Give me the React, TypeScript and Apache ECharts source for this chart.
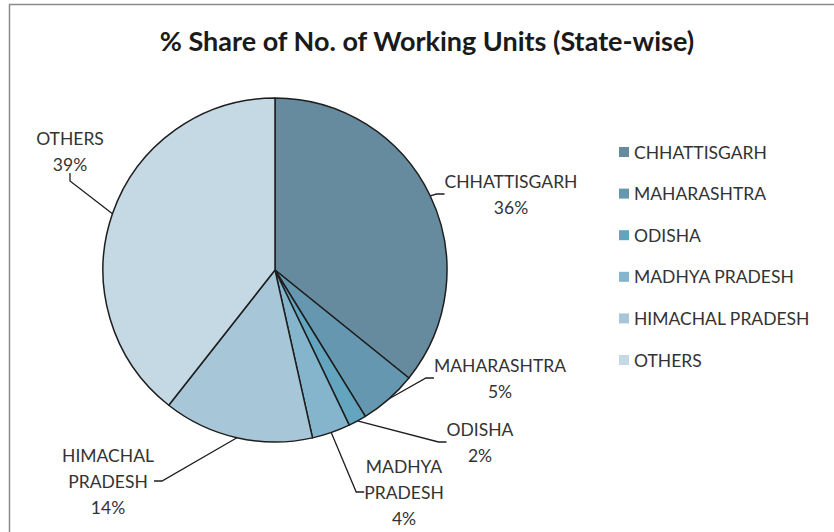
import React, { useEffect, useRef } from "react";
import * as echarts from "echarts";

const title = "% Share of No. of Working Units (State-wise)";
const categories = [
  "CHHATTISGARH",
  "MAHARASHTRA",
  "ODISHA",
  "MADHYA PRADESH",
  "HIMACHAL PRADESH",
  "OTHERS",
];
const shares = [35.8, 5.4, 1.7, 3.6, 14.1, 39.4];

const sliceColors = ["#668b9e", "#6598b0", "#63a4bf", "#84b5cc", "#a7c7d8", "#c5d9e4"];
// label block centres and extra top padding (layout only)
const labelCenters: [number, number][] = [
  [511, 194],
  [500, 378],
  [480, 442],
  [404, 492],
  [108, 460],
  [70, 151],
];
const labelTopPad = [0, 0, 0, 0, 42, 0];

const FONT = "Lato, 'Open Sans', sans-serif";

export default function App() {
  const ref = useRef<HTMLDivElement>(null);
  useEffect(() => {
    if (!ref.current) return;
    const chart = echarts.init(ref.current, undefined, { renderer: "svg" });
    const data = categories.map((name, i) => ({
      name,
      value: shares[i],
      itemStyle: { color: sliceColors[i] },
      label: { padding: [labelTopPad[i], 0, 0, 0] },
    }));
    chart.setOption({
      animation: false,
      backgroundColor: "#ffffff",
      title: {
        text: title,
        left: 427,
        textAlign: "center",
        top: 27,
        padding: 0,
        textStyle: {
          fontFamily: FONT,
          fontSize: 27,
          fontWeight: "bold",
          color: "#1a1a1a",
        },
      },
      graphic: [
        {
          type: "rect",
          shape: { x: 9.5, y: 4.5, width: 900, height: 600 },
          style: { fill: "none", stroke: "#8a8a8a", lineWidth: 1.5 },
          silent: true,
          z: -1,
        },
      ],
      legend: {
        orient: "vertical",
        left: 619,
        top: 142,
        padding: 0,
        icon: "rect",
        itemWidth: 10,
        itemHeight: 10,
        itemGap: 21.6,
        data: categories,
        itemStyle: { borderWidth: 0 },
        textStyle: {
          fontFamily: FONT,
          fontSize: 17.5,
          lineHeight: 20,
          color: "#333333",
        },
      },
      series: [
        {
          type: "pie",
          center: [275, 270],
          radius: 172,
          startAngle: 90,
          clockwise: true,
          avoidLabelOverlap: false,
          data,
          itemStyle: { borderColor: "#1e1e1e", borderWidth: 1.5 },
          label: {
            show: true,
            position: "outside",
            formatter: (p: any) =>
              p.name
                .split(" ")
                .map((w: string) => `{c|${w}}`)
                .join("\n") + `\n{c|${Math.round(p.percent)}%}`,
            rich: {
              c: {
                align: "center",
                fontFamily: FONT,
                fontSize: 17.5,
                lineHeight: 26,
                color: "#333333",
              },
            },
          },
          labelLine: {
            show: true,
            length: 10,
            length2: 8,
            lineStyle: { color: "#1e1e1e", width: 1.3 },
          },
          labelLayout: (params: any) => ({
            x: labelCenters[params.dataIndex][0],
            y: labelCenters[params.dataIndex][1],
            align: "center",
            verticalAlign: "middle",
          }),
          emphasis: { disabled: true },
        },
      ],
    });
    return () => chart.dispose();
  }, []);
  return (
    <div
      ref={ref}
      style={{ position: "fixed", left: 0, top: 0, width: 834, height: 532 }}
    />
  );
}
